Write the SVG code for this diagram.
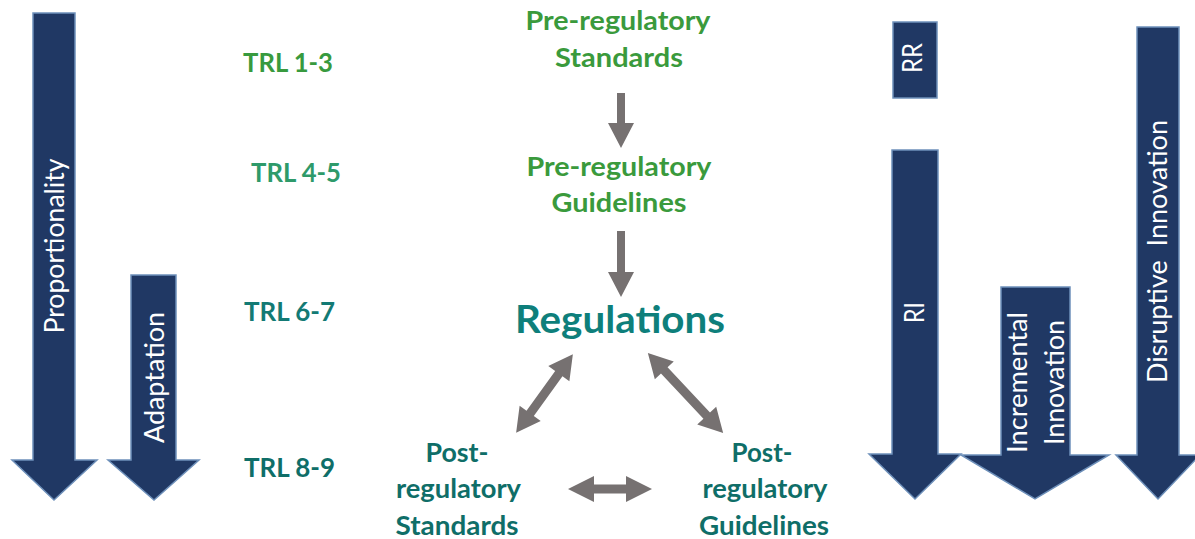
<svg xmlns="http://www.w3.org/2000/svg" width="1195" height="539" viewBox="0 0 1195 539">
<style>
.nav{fill:#203864;stroke:#6E90BA;stroke-width:1.5;stroke-linejoin:miter}
.wt{fill:#ffffff;font-family:Lato,"Open Sans","Liberation Sans",sans-serif;font-size:26px;text-anchor:middle}
.bt{font-family:Lato,"Open Sans","Liberation Sans",sans-serif;font-weight:bold;font-size:27px;text-anchor:middle}
.trl{font-family:Lato,"Open Sans","Liberation Sans",sans-serif;font-weight:bold;font-size:27px}
.gr{fill:#3A9A3C}
.post{fill:#0F6E68}
.conn{fill:#767171}
</style>
<rect width="1195" height="539" fill="#ffffff"/>
<g id="proportionality">
<polygon class="nav" points="33,13 75,13 75,460 97,460 54,500 12,460 33,460"/>
<text class="wt" transform="translate(64,246) rotate(-90)" textLength="175" lengthAdjust="spacingAndGlyphs">Proportionality</text>
</g>
<g id="adaptation">
<polygon class="nav" points="131,275 176,275 176,460 199,460 154,500 108,460 131,460"/>
<text class="wt" transform="translate(164,377.5) rotate(-90)" textLength="131" lengthAdjust="spacingAndGlyphs">Adaptation</text>
</g>
<g id="rr">
<rect class="nav" x="893" y="22" width="44" height="76"/>
<text class="wt" transform="translate(922,58) rotate(-90)" textLength="30" lengthAdjust="spacingAndGlyphs">RR</text>
</g>
<g id="ri">
<polygon class="nav" points="892,150 938,150 938,454 961,454 915,499 869,454 892,454"/>
<text class="wt" transform="translate(924,312.5) rotate(-90)" textLength="21" lengthAdjust="spacingAndGlyphs">RI</text>
</g>
<g id="incremental">
<polygon class="nav" points="1001,287 1070,287 1070,455 1109,455 1035,499 961,455 1001,455"/>
<text class="wt" transform="translate(1027,382.5) rotate(-90)" textLength="141" lengthAdjust="spacingAndGlyphs">Incremental</text>
<text class="wt" transform="translate(1064,382.5) rotate(-90)" textLength="125" lengthAdjust="spacingAndGlyphs">Innovation</text>
</g>
<g id="disruptive">
<polygon class="nav" points="1137,27 1179,27 1179,455 1200,455 1158,499 1116,455 1137,455"/>
<text class="wt" xml:space="preserve" transform="translate(1167,251.5) rotate(-90)" textLength="263" lengthAdjust="spacingAndGlyphs">Disruptive  Innovation</text>
</g>
<g id="trl-labels">
<text class="trl" x="243" y="72" fill="#389A3E" textLength="90" lengthAdjust="spacingAndGlyphs">TRL 1-3</text>
<text class="trl" x="251" y="182" fill="#2E9A6A" textLength="90" lengthAdjust="spacingAndGlyphs">TRL 4-5</text>
<text class="trl" x="244" y="321" fill="#137A74" textLength="91" lengthAdjust="spacingAndGlyphs">TRL 6-7</text>
<text class="trl" x="244" y="477" fill="#0F6E68" textLength="91" lengthAdjust="spacingAndGlyphs">TRL 8-9</text>
</g>
<g id="pre-standards">
<text class="bt gr" x="618" y="30" textLength="185" lengthAdjust="spacingAndGlyphs">Pre-regulatory</text>
<text class="bt gr" x="619" y="67" textLength="128" lengthAdjust="spacingAndGlyphs">Standards</text>
</g>
<g id="pre-guidelines">
<text class="bt gr" x="619" y="176" textLength="185" lengthAdjust="spacingAndGlyphs">Pre-regulatory</text>
<text class="bt gr" x="619" y="212" textLength="135" lengthAdjust="spacingAndGlyphs">Guidelines</text>
</g>
<g id="regulations">
<text class="bt" x="620" y="333" fill="#0E7F7B" font-size="38" style="font-size:38px" textLength="210" lengthAdjust="spacingAndGlyphs">Regulations</text>
</g>
<g id="post-standards">
<text class="bt post" x="457" y="462" textLength="63" lengthAdjust="spacingAndGlyphs">Post-</text>
<text class="bt post" x="458.5" y="498" textLength="125" lengthAdjust="spacingAndGlyphs">regulatory</text>
<text class="bt post" x="457" y="535" textLength="123" lengthAdjust="spacingAndGlyphs">Standards</text>
</g>
<g id="post-guidelines">
<text class="bt post" x="762" y="462" textLength="61" lengthAdjust="spacingAndGlyphs">Post-</text>
<text class="bt post" x="765" y="498" textLength="125" lengthAdjust="spacingAndGlyphs">regulatory</text>
<text class="bt post" x="764" y="535" textLength="130" lengthAdjust="spacingAndGlyphs">Guidelines</text>
</g>
<g id="connectors">
<polygon class="conn" points="617,93 625,93 625,123 634,123 621,148 608,123 617,123"/>
<polygon class="conn" points="617,231 625,231 625,272 634,272 621,297 608,272 617,272"/>
<polygon class="conn" transform="translate(544.5,393.5) rotate(125.8)" points="-48.5,0 -24.5,-13 -24.5,-4.5 24.5,-4.5 24.5,-13 48.5,0 24.5,13 24.5,4.5 -24.5,4.5 -24.5,13"/>
<polygon class="conn" transform="translate(685.5,393) rotate(46.8)" points="-55,0 -31,-13 -31,-4.5 31,-4.5 31,-13 55,0 31,13 31,4.5 -31,4.5 -31,13"/>
<polygon class="conn" transform="translate(610,489)" points="-42,0 -16,-13 -16,-4.5 16,-4.5 16,-13 42,0 16,13 16,4.5 -16,4.5 -16,13"/>
</g>
</svg>
